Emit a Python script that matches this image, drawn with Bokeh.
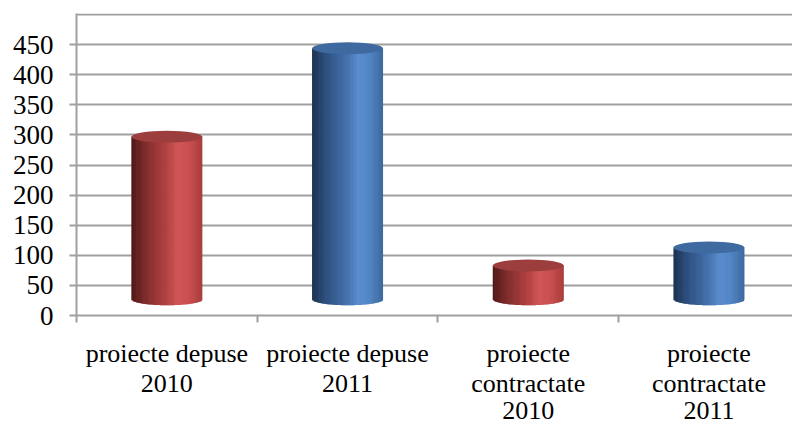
import numpy as np
from bokeh.plotting import figure
from bokeh.models import Range1d, FixedTicker, LinearAxis
from bokeh.embed import file_html
from bokeh.resources import INLINE

# ---- data ----
categories = ["proiecte depuse 2010", "proiecte depuse 2011",
              "proiecte contractate 2010", "proiecte contractate 2011"]
label_line1 = ["proiecte depuse", "proiecte depuse", "proiecte", "proiecte"]
label_line2 = ["2010", "2011", "contractate", "contractate"]
label_line3 = ["", "", "2010", "2011"]
values = [297, 444, 83, 113]
series = ["2010", "2011", "2010", "2011"]
y_ticks = [0, 50, 100, 150, 200, 250, 300, 350, 400, 450]
grid_ticks = [50, 100, 150, 200, 250, 300, 350, 400, 450, 500]

# ---- style ----
FLOOR = 27      # visual floor level of the 3D cylinders
RIM = 10        # half-height of cylinder ellipses (y units)
RADIUS = 0.1965 # cylinder radius (category units)
NSTRIP = 60
GRID = "#a0a0a0"
FONT = "Liberation Serif"

side_stops = {
    "2010": [(-1.0, (80, 24, 24)), (-0.6, (128, 44, 44)), (0.0, (180, 66, 66)),
             (0.3, (208, 86, 86)), (0.6, (202, 80, 80)), (1.0, (168, 60, 60))],
    "2011": [(-1.0, (28, 50, 80)), (-0.6, (46, 80, 128)), (0.0, (70, 115, 175)),
             (0.3, (90, 140, 205)), (0.6, (82, 134, 198)), (1.0, (62, 104, 158))],
}
top_color = {"2010": "#9c3e3d", "2011": "#3e6aa0"}


def shade(stops, u):
    for (u0, c0), (u1, c1) in zip(stops[:-1], stops[1:]):
        if u <= u1:
            t = (u - u0) / (u1 - u0)
            c = [int(round(a + (b - a) * t)) for a, b in zip(c0, c1)]
            return "#%02x%02x%02x" % tuple(c)
    return "#%02x%02x%02x" % stops[-1][1]


W, H = 792, 426
LEFT, TOP, BOTTOM = 76, 13, 111
CAT_W = 180.7
frame_w = W - LEFT
p = figure(width=W, height=H,
           x_range=Range1d(0.5, 0.5 + frame_w / CAT_W),
           y_range=Range1d(0, 501.7),
           output_backend="svg", toolbar_location=None,
           x_axis_location=None,
           min_border_left=LEFT, min_border_right=0,
           min_border_top=TOP, min_border_bottom=BOTTOM)
p.outline_line_color = None
p.background_fill_color = "white"
p.border_fill_color = "white"

# y axis
yax = p.yaxis[0]
yax.ticker = FixedTicker(ticks=y_ticks)
yax.axis_line_color = GRID
yax.axis_line_width = 2
yax.major_tick_line_color = GRID
yax.major_tick_line_width = 2
yax.major_tick_out = 7
yax.major_tick_in = 0
yax.minor_tick_line_color = None
yax.major_label_text_font = FONT
yax.major_label_text_font_size = "27px"
yax.major_label_text_color = "black"
yax.major_label_standoff = 16

p.xgrid.visible = False
p.ygrid[0].ticker = FixedTicker(ticks=grid_ticks)
p.ygrid[0].grid_line_color = GRID
p.ygrid[0].grid_line_width = 2

centers = [i + 1 for i in range(len(categories))]
bounds = [i + 0.5 for i in range(len(categories))]

standoffs = [16, -2, 1]
for k, lines in enumerate([label_line1, label_line2, label_line3]):
    ax = LinearAxis(ticker=FixedTicker(ticks=centers,
                                       minor_ticks=bounds if k == 0 else []))
    ax.major_label_overrides = {c: t for c, t in zip(centers, lines)}
    ax.major_tick_line_color = None
    ax.major_tick_out = 0
    ax.major_tick_in = 0
    if k == 0:
        ax.axis_line_color = GRID
        ax.axis_line_width = 2
        ax.minor_tick_line_color = GRID
        ax.minor_tick_line_width = 2
        ax.minor_tick_out = 7
        ax.minor_tick_in = 0
    else:
        ax.axis_line_color = None
        ax.minor_tick_line_color = None
    ax.major_label_standoff = standoffs[k]
    ax.major_label_text_font = FONT
    ax.major_label_text_font_size = "26px"
    ax.major_label_text_color = "black"
    p.add_layout(ax, "below")

# cylinders
for xc, v, s in zip(centers, values, series):
    edges = xc + RADIUS * np.linspace(-1, 1, NSTRIP + 1)
    step = edges[1] - edges[0]
    mids = (edges[:-1] + edges[1:]) / 2
    um = (mids - xc) / RADIUS
    bottoms = FLOOR - RIM * np.sqrt(np.clip(1 - um ** 2, 0, 1))
    rights = np.minimum(edges[1:] + 0.6 * step, edges[-1])
    cols = [shade(side_stops[s], u) for u in um]
    p.quad(left=edges[:-1], right=rights, bottom=bottoms,
           top=[v] * NSTRIP, fill_color=cols, line_color=None)
    p.ellipse(x=[xc], y=[v], width=[2 * RADIUS], height=[2 * RIM],
              fill_color=top_color[s], line_color=None)

open("out.html", "w").write(file_html(p, INLINE))
